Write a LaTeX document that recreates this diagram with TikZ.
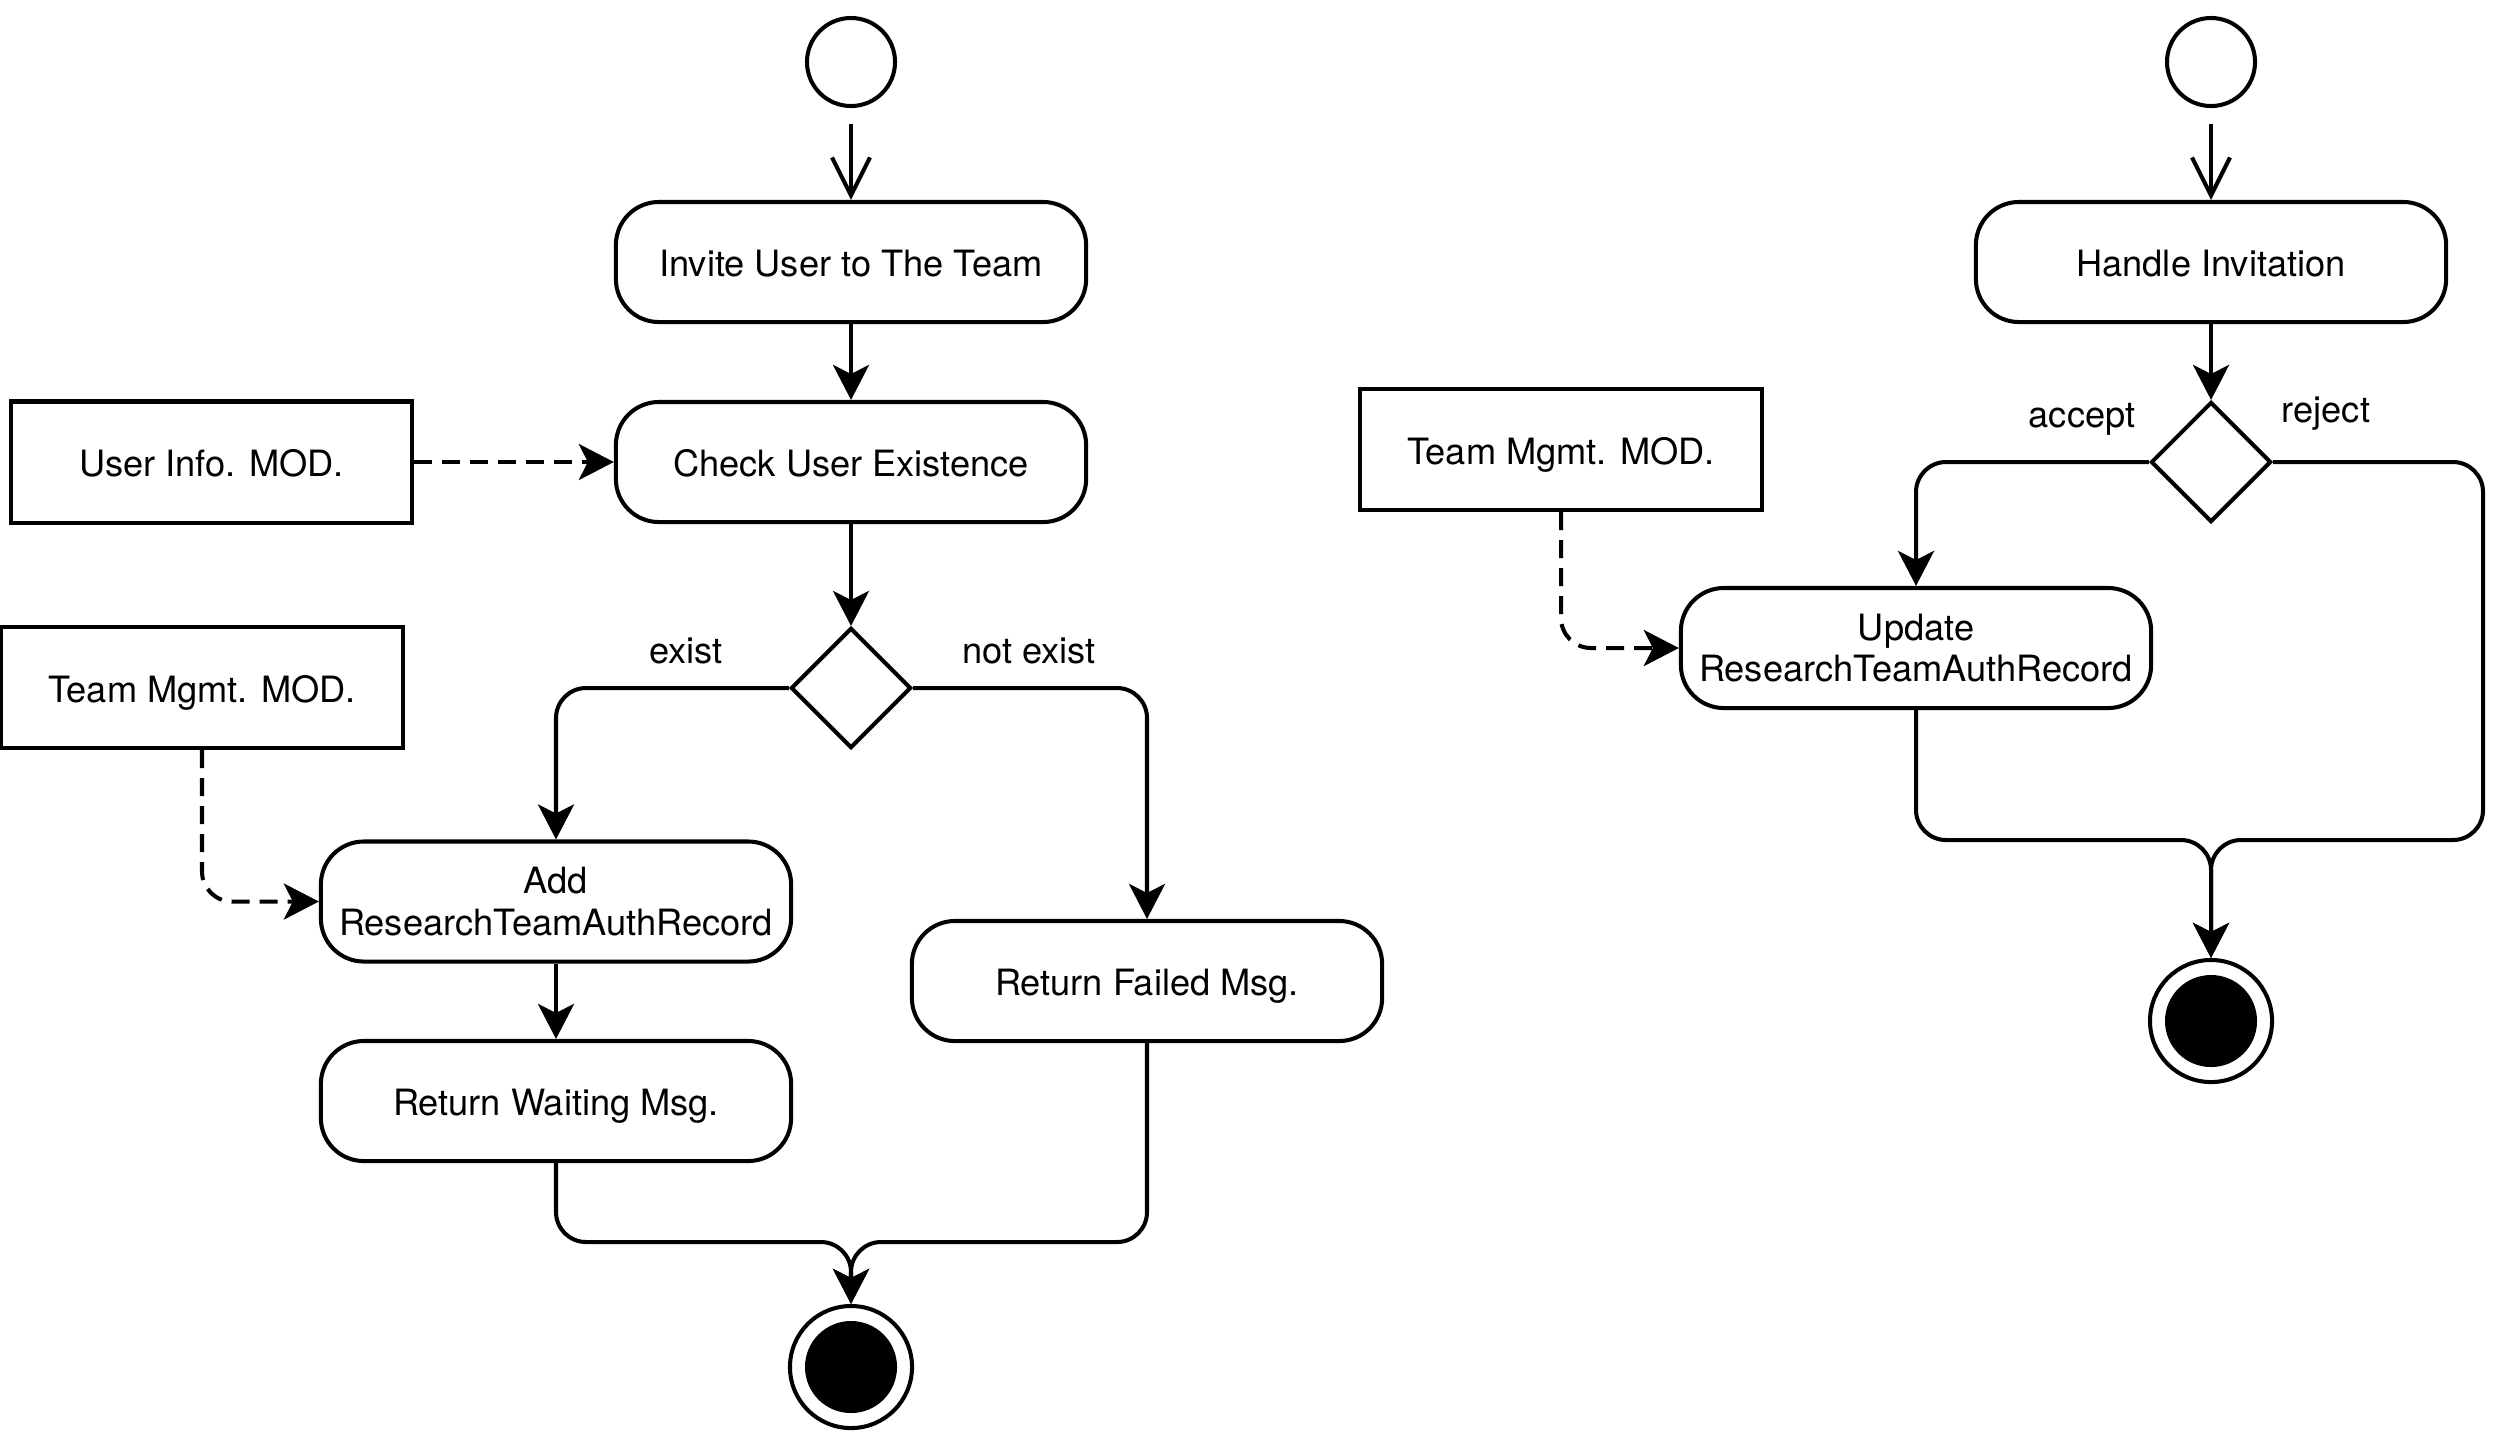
\documentclass[tikz,border=0pt]{standalone}
\usepackage{fontspec}
\setmainfont{TeX Gyre Heros}
\usetikzlibrary{arrows.meta,shapes.geometric}
\begin{document}
\begin{tikzpicture}[x=0.01cm,y=-0.01cm,
  font=\fontsize{10.3pt}{11.8pt}\selectfont, line width=1.15pt,
  actbase/.style={draw, rounded corners=0.43cm, minimum width=4.7cm, minimum height=1.2cm, inner sep=0pt},
  act/.style={actbase, text height=0.85em, text depth=0pt},
  actml/.style={actbase, align=center},
  modbox/.style={draw, minimum width=4.01cm, minimum height=1.21cm, inner sep=0pt, text height=0.85em, text depth=0pt},
  decis/.style={draw, diamond, aspect=1, minimum width=1.2cm, minimum height=1.2cm, inner sep=0pt},
  startc/.style={draw, circle, minimum size=0.88cm, inner sep=0pt},
  endc/.style={draw, circle, minimum size=1.22cm, inner sep=0pt,
    path picture={\fill[black] (path picture bounding box.center) circle (0.46cm);}},
  flow/.style={-{Stealth[length=0.35cm,width=0.36cm,inset=0.09cm]}, rounded corners=0.3cm},
  openflow/.style={-{Straight Barb[length=0.38cm,width=0.38cm]}, shorten <=0.16cm},
  dep/.style={flow, dash pattern=on 0.18cm off 0.1cm},
  lbl/.style={anchor=base, inner sep=0pt}
]
\useasboundingbox (0,0) rectangle (2516,1432);

% ---------- left activity ----------
\node[startc] (s1) at (851,62) {};
\node[act] (invite) at (851,262) {Invite User to The Team};
\node[act] (check) at (851,462) {Check User Existence};
\node[modbox] (uinfo) at (211.5,462) {User Info. MOD.};
\node[decis] (d1) at (851,688) {};
\node[modbox] (teamL) at (202,687.5) {Team Mgmt. MOD.};
\node[actml] (add) at (556,901.5) {Add\\ResearchTeamAuthRecord};
\node[act] (waitmsg) at (556,1101) {Return Waiting Msg.};
\node[act] (fail) at (1147,981) {Return Failed Msg.};
\node[endc] (e1) at (851,1367) {};
\coordinate (m1) at (851,1242);

\draw[openflow] (s1) -- (invite);
\draw[flow] (invite) -- (check);
\draw[dep] (uinfo) -- (check);
\draw[flow] (check) -- (d1);
\draw[flow] (d1.west) -| (add.north);
\draw[flow] (d1.east) -| (fail.north);
\draw[flow] (add) -- (waitmsg);
\draw[flow] (waitmsg.south) |- (m1) -- (e1.north);
\draw[flow] (fail.south) |- (m1) -- (e1.north);
\draw[dep] (teamL.south) |- (add.west);

\node[lbl] (lexist) at (686,663) {exist};
\node[lbl] (lnot) at (1029,663) {not exist};

% ---------- right activity ----------
\node[startc] (s2) at (2211,62) {};
\node[act] (handle) at (2211,262) {Handle Invitation};
\node[decis] (d2) at (2211,462) {};
\node[modbox] (teamR) at (1561,449.5) {Team Mgmt. MOD.};
\node[actml] (update) at (1916,648) {Update\\ResearchTeamAuthRecord};
\node[endc] (e2) at (2211,1021) {};
\coordinate (m2) at (2211,840);
\coordinate (rx) at (2483,840);

\draw[openflow] (s2) -- (handle);
\draw[flow] (handle) -- (d2);
\draw[flow] (d2.west) -| (update.north);
\draw[flow] (d2.east) -| (rx) -- (m2) -- (e2.north);
\draw[flow] (update.south) |- (m2) -- (e2.north);
\draw[dep] (teamR.south) |- (update.west);

\node[lbl] (lacc) at (2082,427) {accept};
\node[lbl] (lrej) at (2326,422) {reject};
\end{tikzpicture}
\end{document}
